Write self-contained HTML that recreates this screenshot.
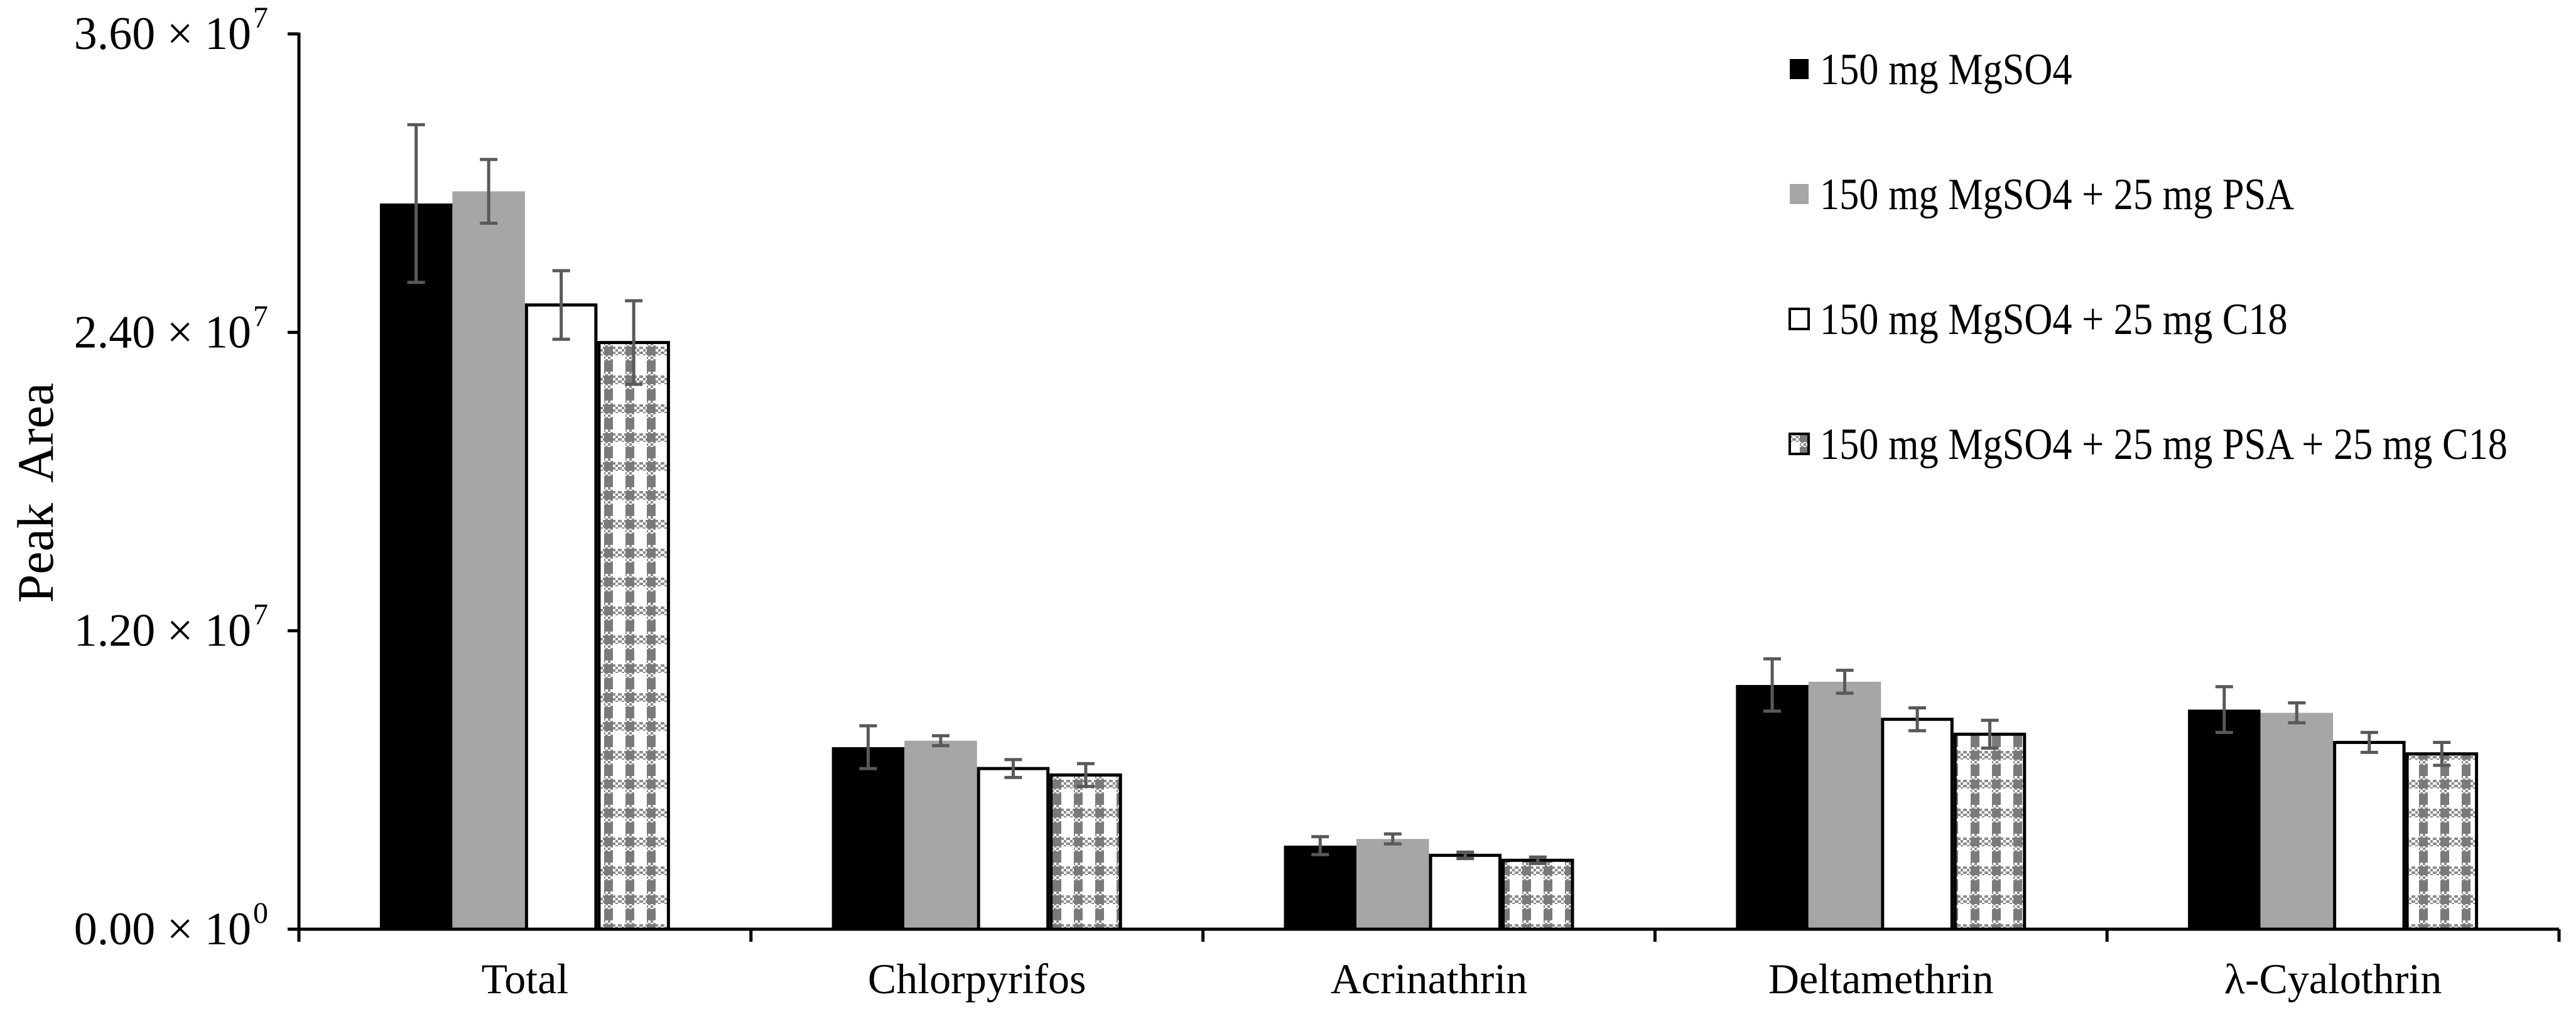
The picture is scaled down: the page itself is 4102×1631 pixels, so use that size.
<!DOCTYPE html>
<html><head><meta charset="utf-8"><style>
html,body{margin:0;padding:0;background:#fff;}
svg{display:block;font-family:"Liberation Serif",serif;}
</style></head><body>
<svg id="chart" width="4102" height="1631" viewBox="0 0 4102 1631" xmlns="http://www.w3.org/2000/svg">
<defs>
<pattern id="fine" width="8" height="8" patternUnits="userSpaceOnUse">
<rect width="8" height="8" fill="#fff"/><rect width="4" height="4" fill="#8c8c8c"/><rect x="4" y="4" width="4" height="4" fill="#8c8c8c"/>
</pattern>
<pattern id="check" width="34" height="46" patternUnits="userSpaceOnUse">
<rect width="34" height="46" fill="#fff"/>
<rect x="0" y="0" width="34" height="14" fill="url(#fine)"/>
<rect x="10" y="0" width="14" height="46" fill="url(#fine)"/>
<rect x="10" y="0" width="14" height="14" fill="#7a7a7a"/>
<rect x="10" y="22" width="14" height="18" fill="#7a7a7a"/>
</pattern>
</defs>
<g id="plot"></g>
</svg>
<script>
const categories = ["Total","Chlorpyrifos","Acrinathrin","Deltamethrin","λ-Cyalothrin"];
const seriesNames = ["150 mg MgSO4","150 mg MgSO4 + 25 mg PSA","150 mg MgSO4 + 25 mg C18","150 mg MgSO4 + 25 mg PSA + 25 mg C18"];
const sMgSO4 = [2.918e7, 0.732e7, 0.336e7, 0.982e7, 0.883e7];
const sPSA   = [2.967e7, 0.758e7, 0.363e7, 0.995e7, 0.870e7];
const sC18   = [2.510e7, 0.646e7, 0.297e7, 0.844e7, 0.751e7];
const sBoth  = [2.359e7, 0.620e7, 0.277e7, 0.784e7, 0.705e7];
const eMgSO4 = [0.317e7, 0.086e7, 0.036e7, 0.105e7, 0.092e7];
const ePSA   = [0.128e7, 0.020e7, 0.020e7, 0.046e7, 0.040e7];
const eC18   = [0.138e7, 0.036e7, 0.013e7, 0.046e7, 0.040e7];
const eBoth  = [0.168e7, 0.046e7, 0.013e7, 0.056e7, 0.046e7];
const yTicks = [0, 1.2e7, 2.4e7, 3.6e7];
const yTickMant = ["0.00","1.20","2.40","3.60"];
const yTickExp = ["0","7","7","7"];

const NS="http://www.w3.org/2000/svg";
const g=document.getElementById('plot');
const X0=476, X1=4075, Y0=1480, Y1=54, YMAX=3.6e7;
const catW=(X1-X0)/categories.length;
const barW=115.5;
function y(v){return Y0-(v/YMAX)*(Y0-Y1);}
function xCat(i){return X0+catW*(i+0.5);}
function mk(tag,attrs,parent){const e=document.createElementNS(NS,tag);for(const k in attrs)e.setAttribute(k,attrs[k]);(parent||g).appendChild(e);return e;}

const series=[sMgSO4,sPSA,sC18,sBoth];
const errs=[eMgSO4,ePSA,eC18,eBoth];
const fills=["#000","#a6a6a6","#fff","url(#check)"];
const strokes=["none","none","#000","#000"];

series.forEach((s,si)=>{
  s.forEach((v,ci)=>{
    const x=xCat(ci)-2*barW+si*barW;
    const r=mk('rect',{x:x+(strokes[si]!=="none"?2.5:0),y:y(v),width:barW-(strokes[si]!=="none"?5:0),height:Y0-y(v),fill:fills[si],stroke:strokes[si],'stroke-width':5});
    
    
  });
});
series.forEach((s,si)=>{
  s.forEach((v,ci)=>{
    const cx=xCat(ci)-2*barW+si*barW+barW/2;
    const e=errs[si][ci];
    const eg=mk('g',{stroke:'#595959','stroke-width':5,fill:'none'});
    
    
    mk('line',{x1:cx,x2:cx,y1:y(v+e),y2:y(v-e)},eg);
    mk('line',{x1:cx-14,x2:cx+14,y1:y(v+e),y2:y(v+e)},eg);
    mk('line',{x1:cx-14,x2:cx+14,y1:y(v-e),y2:y(v-e)},eg);
  });
});
// axes
const ya=mk('line',{x1:X0,x2:X0,y1:Y1-2,y2:Y0+2,stroke:'#000','stroke-width':5});


const xa=mk('line',{x1:X0-18,x2:X1,y1:Y0,y2:Y0,stroke:'#000','stroke-width':5});


yTicks.forEach((t,i)=>{
  mk('line',{x1:X0-18,x2:X0,y1:y(t),y2:y(t),stroke:'#000','stroke-width':5});
  const tx=mk('text',{x:400,y:y(t)+24,'text-anchor':'end','font-size':74,fill:'#000'});
  
  
  tx.textContent=yTickMant[i]+" × 10";
  const sp=mk('text',{x:403,y:y(t)-10,'text-anchor':'start','font-size':48,fill:'#000'});
  
  
  sp.textContent=yTickExp[i];
});
for(let i=0;i<=categories.length;i++){
  mk('line',{x1:X0+catW*i,x2:X0+catW*i,y1:Y0,y2:Y0+20,stroke:'#000','stroke-width':5});
}
categories.forEach((c,i)=>{
  const t=mk('text',{x:xCat(i),y:1582,'text-anchor':'middle','font-size':68,fill:'#000'});
  
  
  t.textContent=c;
});
const yt=mk('text',{x:0,y:0,transform:'translate(84,785) rotate(-90)','text-anchor':'middle','font-size':82,fill:'#000','word-spacing':'16'});


yt.textContent="Peak  Area";
// legend
const legY=[110,309,508,707];
seriesNames.forEach((n,i)=>{
  const lg=mk('g',{});
  
  
  mk('rect',{x:2850,y:legY[i]-16,width:30,height:32,fill:fills[i],stroke:strokes[i]==='none'?'none':'#000','stroke-width':4},lg);
  const t=mk('text',{x:0,y:0,transform:'translate(2898,'+(legY[i]+24)+') scale(0.89,1.02)','font-size':70,fill:'#000'},lg);
  t.textContent=n;
});
</script>
</body></html>
